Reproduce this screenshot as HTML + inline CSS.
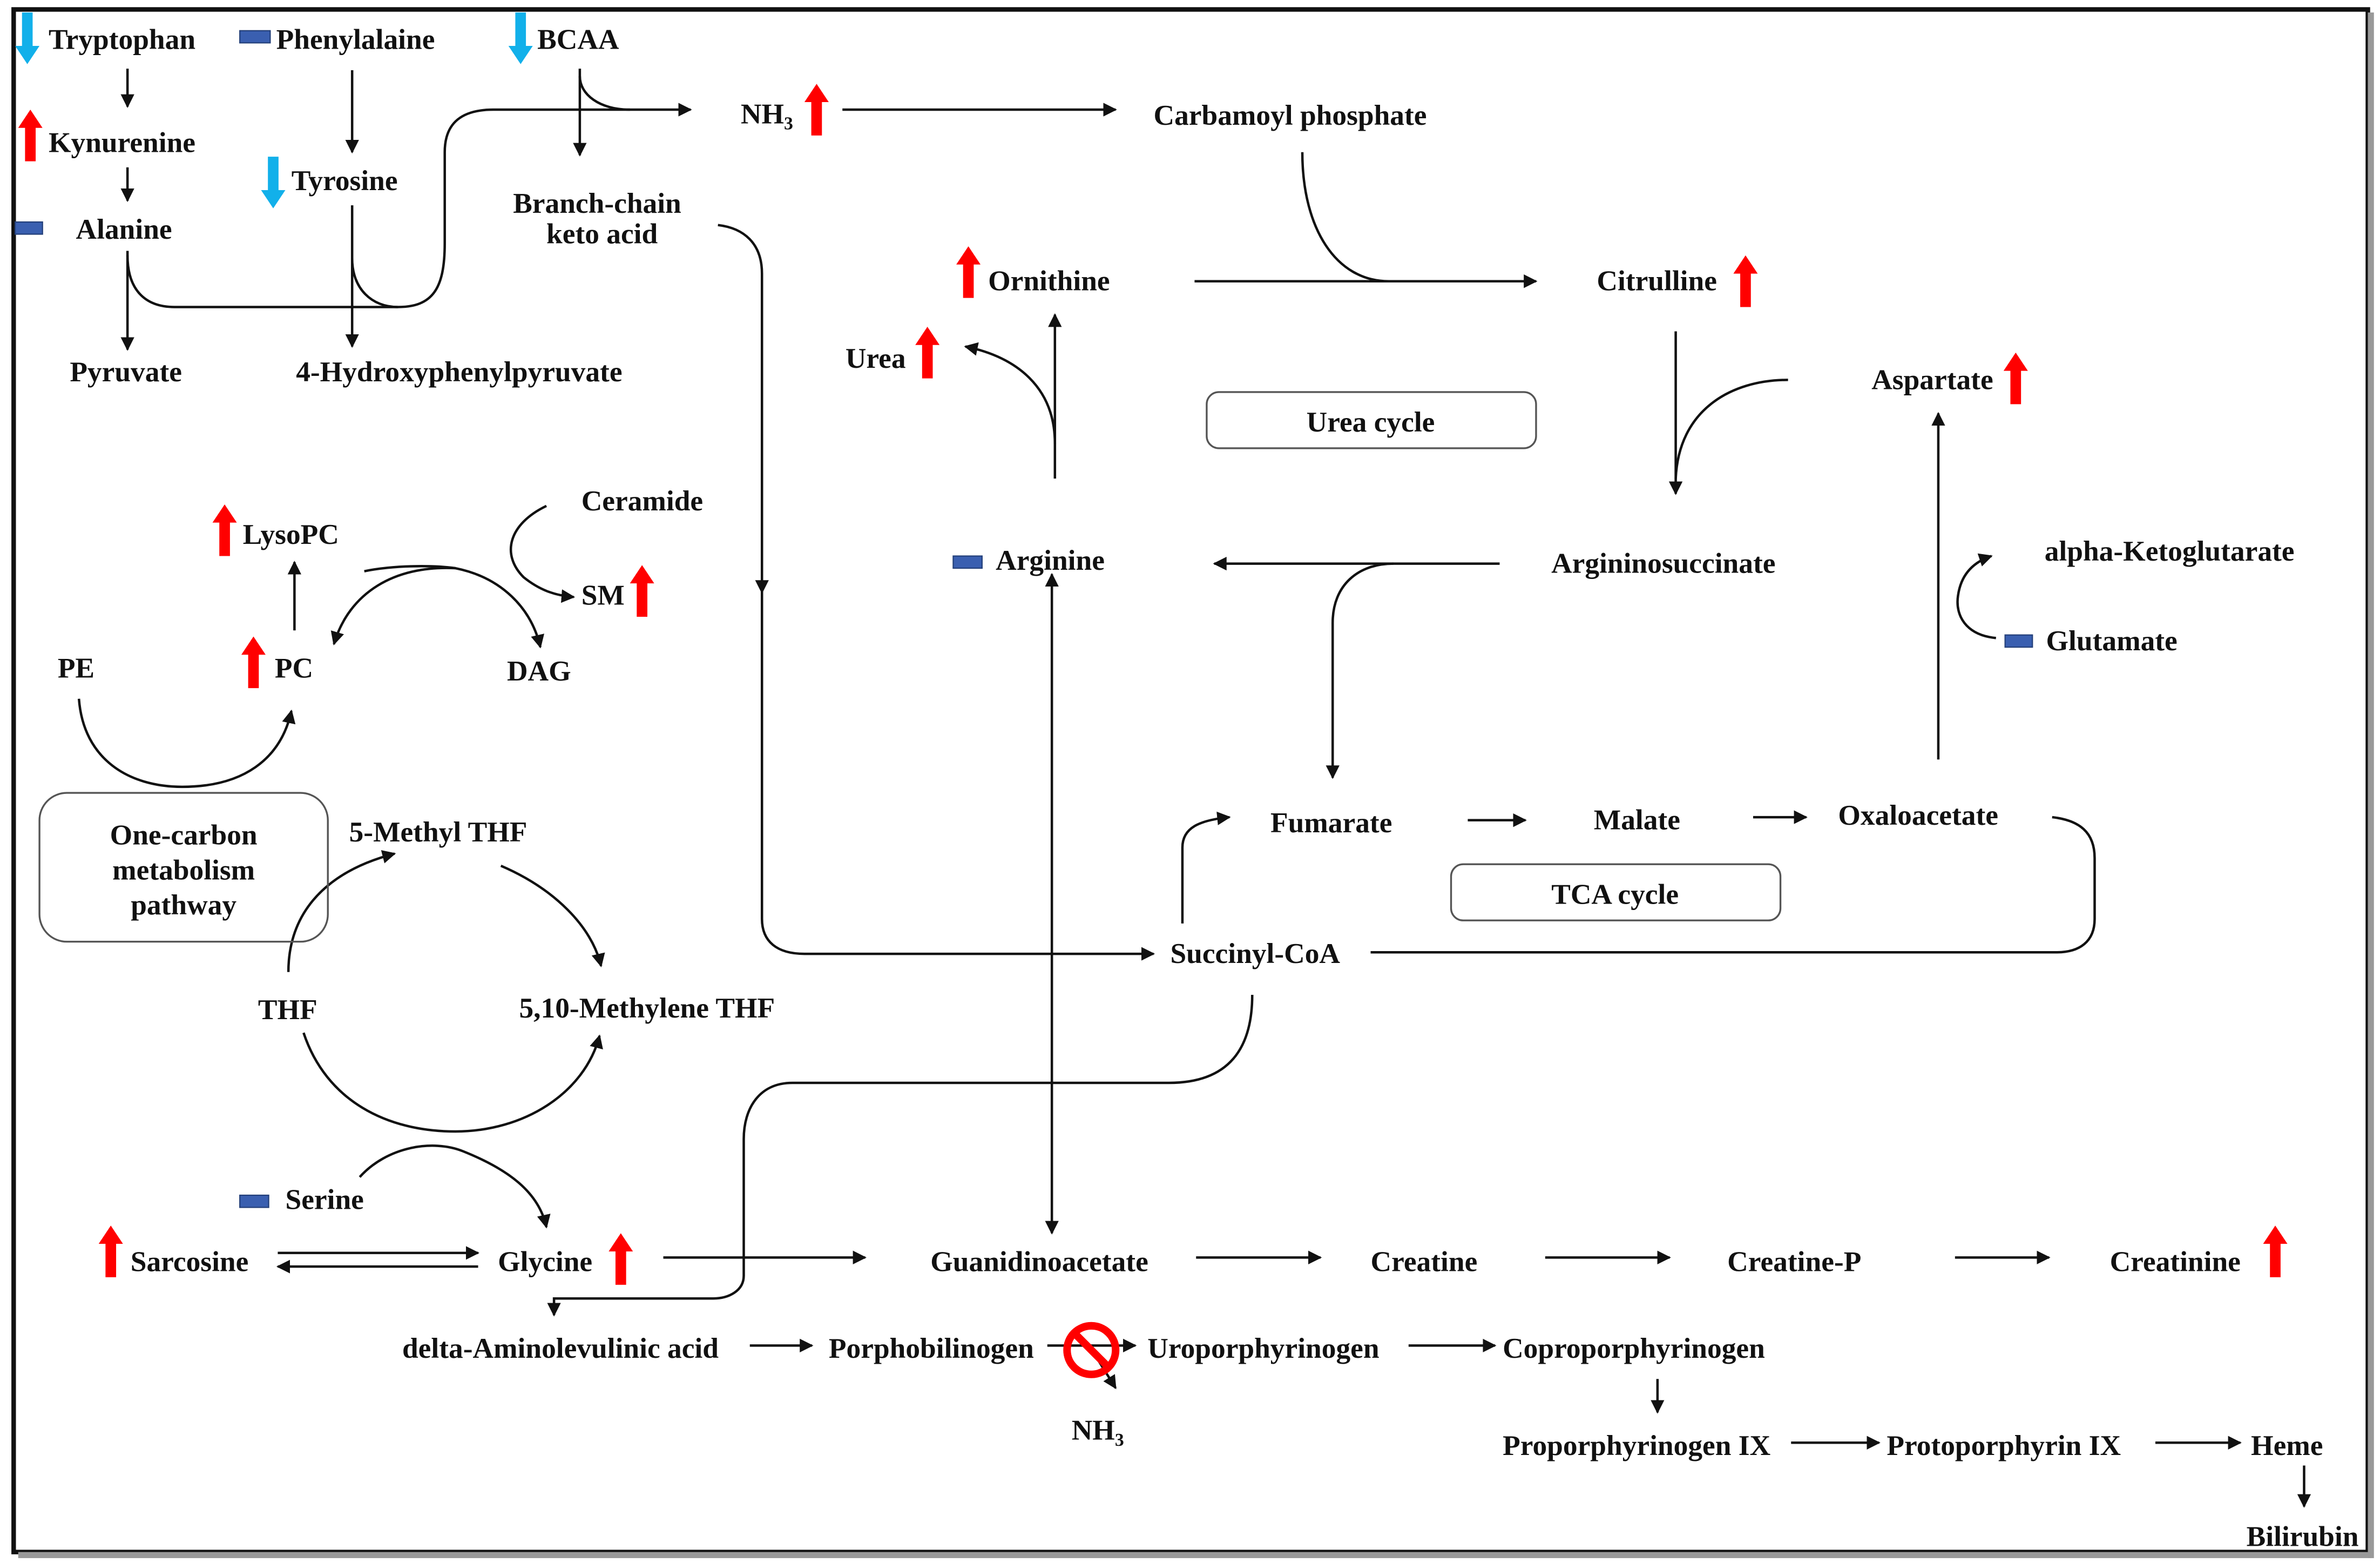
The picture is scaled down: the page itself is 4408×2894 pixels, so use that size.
<!DOCTYPE html>
<html><head><meta charset="utf-8">
<style>
html,body{margin:0;padding:0;background:#fff;}
svg{display:block;}
text{font-family:"Liberation Serif",serif;font-weight:bold;font-size:19px;fill:#111;}
</style></head><body>
<svg width="4408" height="2894" viewBox="0 0 1568 1029" xmlns="http://www.w3.org/2000/svg">
<defs>
<marker id="a" viewBox="0 0 10 10" refX="9" refY="5" markerWidth="9" markerHeight="9" markerUnits="userSpaceOnUse" orient="auto"><path d="M0,0 L10,5 L0,10 z" fill="#111"/></marker>
<marker id="s" viewBox="0 0 10 10" refX="9" refY="5" markerWidth="9" markerHeight="9" markerUnits="userSpaceOnUse" orient="auto-start-reverse"><path d="M0,0 L10,5 L0,10 z" fill="#111"/></marker>
<g id="up"><path d="M-3.5,0 V-22 H-8 L0,-34 L8,-22 H3.5 V0 z" fill="#f00"/></g>
<g id="dn"><path d="M-3.5,0 V22 H-8 L0,34 L8,22 H3.5 V0 z" fill="#12b0ea"/></g>
</defs>
<rect x="0" y="0" width="1568" height="1029" fill="#fff"/>
<rect x="9" y="6" width="1551" height="1016" fill="none" stroke="#111" stroke-width="3"/>
<rect x="12" y="1022" width="1550" height="4" fill="#999"/>
<rect x="1560" y="8" width="4" height="1018" fill="#999"/>

<g fill="none" stroke="#111" stroke-width="1.6">
<path d="M84,45 V70" marker-end="url(#a)"/>
<path d="M84,110 V132" marker-end="url(#a)"/>
<path d="M84,165 V230" marker-end="url(#a)"/>
<path d="M232,46 V100" marker-end="url(#a)"/>
<path d="M232,135 V228" marker-end="url(#a)"/>
<path d="M382,45 V102" marker-end="url(#a)"/>
<path d="M84,168 C84,190 95,202 115,202 H262 C285,202 293,190 293,160 V100 C293,80 305,72 325,72 H455" marker-end="url(#a)"/>
<path d="M232,170 C232,190 245,202 262,202"/>
<path d="M382,50 C382,62 395,72 415,72"/>
<path d="M555,72 H735" marker-end="url(#a)"/>
<path d="M858,100 C858,150 880,185 915,185"/>
<path d="M787,185 H1012" marker-end="url(#a)"/>
<path d="M1104,218 V325" marker-end="url(#a)"/>
<path d="M1178,250 C1140,250 1106,270 1104,315"/>
<path d="M988,371 H800" marker-end="url(#a)"/>
<path d="M918,371 C895,371 878,385 878,410 V512" marker-end="url(#a)"/>
<path d="M695,315 V207" marker-end="url(#a)"/>
<path d="M695,292 C695,255 670,235 636,228" marker-end="url(#a)"/>
<path d="M693,378 V812" marker-start="url(#s)" marker-end="url(#a)"/>
<path d="M473,148 C490,150 502,160 502,180 V390" marker-end="url(#a)"/>
<path d="M502,385 V605 C502,620 512,628 530,628 H760" marker-end="url(#a)"/>
<path d="M779,608 V558 C779,545 790,540 810,538" marker-end="url(#a)"/>
<path d="M967,540 H1005" marker-end="url(#a)"/>
<path d="M1155,538 H1190" marker-end="url(#a)"/>
<path d="M1277,500 V272" marker-end="url(#a)"/>
<path d="M1352,538 C1370,540 1380,548 1380,565 V605 C1380,620 1370,627 1355,627 H903"/>
<path d="M1315,420 C1295,418 1288,405 1290,392 C1292,378 1300,370 1312,366" marker-end="url(#a)"/>
<path d="M825,655 C825,690 810,713 770,713 H522 C500,713 490,730 490,750 V840 C490,850 480,855 470,855 H365 V866" marker-end="url(#a)"/>
<path d="M437,828 H570" marker-end="url(#a)"/>
<path d="M183,825 H315" marker-end="url(#a)"/>
<path d="M315,834 H183" marker-end="url(#a)"/>
<path d="M788,828 H870" marker-end="url(#a)"/>
<path d="M1018,828 H1100" marker-end="url(#a)"/>
<path d="M1288,828 H1350" marker-end="url(#a)"/>
<path d="M494,886 H535" marker-end="url(#a)"/>
<path d="M690,886 H748" marker-end="url(#a)"/>
<path d="M720,890 L735,914" marker-end="url(#a)"/>
<path d="M928,886 H985" marker-end="url(#a)"/>
<path d="M1092,908 V930" marker-end="url(#a)"/>
<path d="M1180,950 H1238" marker-end="url(#a)"/>
<path d="M1420,950 H1476" marker-end="url(#a)"/>
<path d="M1518,965 V992" marker-end="url(#a)"/>
<path d="M52,460 C55,500 85,518 120,518 C160,518 185,500 192,468" marker-end="url(#a)"/>
<path d="M194,415 V370" marker-end="url(#a)"/>
<path d="M240,376 C260,372 285,372 300,374 C330,380 350,400 356,426" marker-end="url(#a)"/>
<path d="M300,374 C260,372 230,390 220,424" marker-end="url(#a)"/>
<path d="M360,333 C335,345 330,365 345,380 C355,388 365,392 378,393" marker-end="url(#a)"/>
<path d="M190,640 C190,605 210,575 260,562" marker-end="url(#a)"/>
<path d="M330,570 C365,585 390,610 396,636" marker-end="url(#a)"/>
<path d="M200,680 C215,725 255,745 300,745 C345,745 385,720 395,682" marker-end="url(#a)"/>
<path d="M237,775 C255,755 285,750 305,758 C335,770 355,785 360,808" marker-end="url(#a)"/>
</g>

<rect x="795" y="258" width="217" height="37" rx="8" fill="none" stroke="#555" stroke-width="1.2"/>
<rect x="956" y="569" width="217" height="37" rx="8" fill="none" stroke="#555" stroke-width="1.2"/>
<rect x="26" y="522" width="190" height="98" rx="18" fill="none" stroke="#555" stroke-width="1.2"/>

<use href="#dn" x="18" y="8"/><use href="#dn" x="343" y="8"/><use href="#dn" x="180" y="103"/>
<use href="#up" x="20" y="106"/><use href="#up" x="538" y="89"/><use href="#up" x="638" y="196"/>
<use href="#up" x="611" y="249"/><use href="#up" x="1150" y="202"/><use href="#up" x="1328" y="266"/>
<use href="#up" x="148" y="366"/><use href="#up" x="423" y="406"/><use href="#up" x="167" y="453"/>
<use href="#up" x="409" y="846"/><use href="#up" x="73" y="841"/><use href="#up" x="1499" y="841"/>
<g fill="#3a5fb0" stroke="#24407a" stroke-width="0.8">
<rect x="158" y="20" width="20" height="8"/><rect x="10" y="146" width="18" height="8"/>
<rect x="628" y="366" width="19" height="8"/><rect x="1321" y="418" width="18" height="8"/>
<rect x="158" y="787" width="19" height="8"/>
</g>
<g>
<circle cx="719" cy="889" r="16" fill="none" stroke="#f00" stroke-width="5"/>
<line x1="708" y1="878" x2="730" y2="900" stroke="#f00" stroke-width="5"/>
</g>

<text x="32" y="32">Tryptophan</text>
<text x="182" y="32">Phenylalaine</text>
<text x="354" y="32">BCAA</text>
<text x="32" y="100">Kynurenine</text>
<text x="50" y="157">Alanine</text>
<text x="192" y="125">Tyrosine</text>
<text x="338" y="140">Branch-chain</text>
<text x="360" y="160">keto acid</text>
<text x="488" y="81">NH<tspan font-size="12" dy="4">3</tspan></text>
<text x="760" y="82">Carbamoyl phosphate</text>
<text x="46" y="251">Pyruvate</text>
<text x="195" y="251">4-Hydroxyphenylpyruvate</text>
<text x="651" y="191">Ornithine</text>
<text x="1052" y="191">Citrulline</text>
<text x="557" y="242">Urea</text>
<text x="1233" y="256">Aspartate</text>
<text x="903" y="284" text-anchor="middle">Urea cycle</text>
<text x="656" y="375">Arginine</text>
<text x="1022" y="377">Argininosuccinate</text>
<text x="1347" y="369">alpha-Ketoglutarate</text>
<text x="1348" y="428">Glutamate</text>
<text x="383" y="336">Ceramide</text>
<text x="160" y="358">LysoPC</text>
<text x="383" y="398">SM</text>
<text x="38" y="446">PE</text>
<text x="181" y="446">PC</text>
<text x="334" y="448">DAG</text>
<text x="121" y="556" text-anchor="middle">One-carbon</text>
<text x="121" y="579" text-anchor="middle">metabolism</text>
<text x="121" y="602" text-anchor="middle">pathway</text>
<text x="230" y="554">5-Methyl THF</text>
<text x="170" y="671">THF</text>
<text x="342" y="670">5,10-Methylene THF</text>
<text x="837" y="548">Fumarate</text>
<text x="1050" y="546">Malate</text>
<text x="1211" y="543">Oxaloacetate</text>
<text x="1064" y="595" text-anchor="middle">TCA cycle</text>
<text x="771" y="634">Succinyl-CoA</text>
<text x="188" y="796">Serine</text>
<text x="86" y="837">Sarcosine</text>
<text x="328" y="837">Glycine</text>
<text x="613" y="837">Guanidinoacetate</text>
<text x="903" y="837">Creatine</text>
<text x="1138" y="837">Creatine-P</text>
<text x="1390" y="837">Creatinine</text>
<text x="265" y="894">delta-Aminolevulinic acid</text>
<text x="546" y="894">Porphobilinogen</text>
<text x="756" y="894">Uroporphyrinogen</text>
<text x="990" y="894">Coproporphyrinogen</text>
<text x="706" y="948">NH<tspan font-size="12" dy="4">3</tspan></text>
<text x="990" y="958">Proporphyrinogen IX</text>
<text x="1243" y="958">Protoporphyrin IX</text>
<text x="1483" y="958">Heme</text>
<text x="1480" y="1018">Bilirubin</text>
</svg>
</body></html>
